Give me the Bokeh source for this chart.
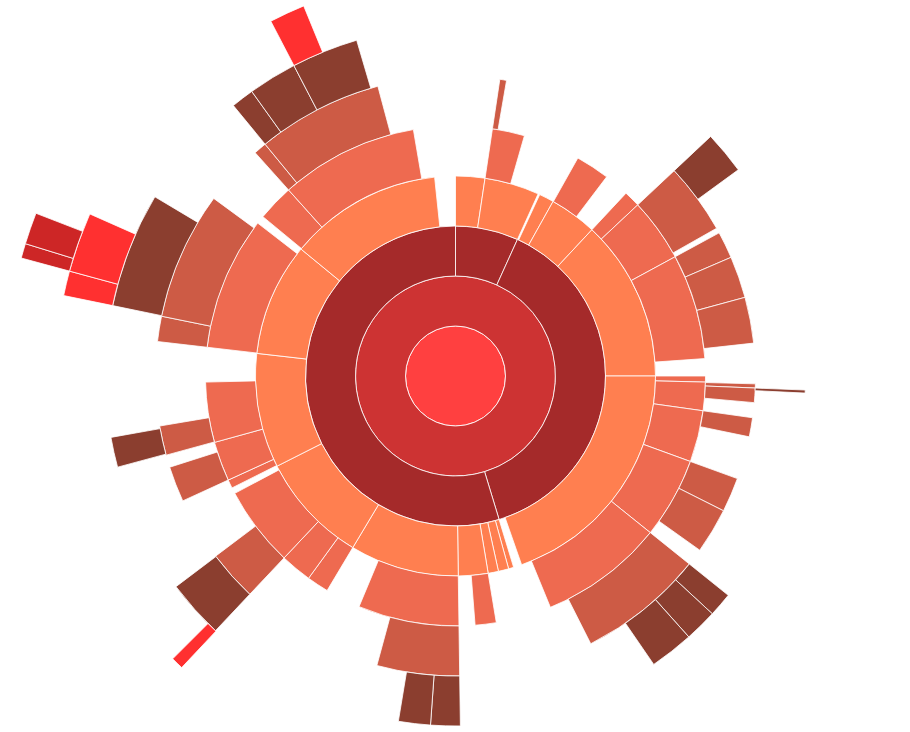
import numpy as np
from bokeh.plotting import figure
from bokeh.models import ColumnDataSource, Range1d
from bokeh.embed import file_html
from bokeh.resources import INLINE

# Each node of the hierarchy: (start, end) of its slice in degrees,
# measured clockwise from 12 o'clock. Level 0 and 1 are full circles.
ring2 = [(0, 24.4), (24.4, 163.1), (163.1, 360)]
ring3 = [(0, 8.5), (8.5, 24.4), (24.9, 29.2), (29.2, 43.0), (43.0, 90.0),
         (90.0, 160.7), (163.1, 164.6), (164.6, 167.6), (167.6, 170.6),
         (170.6, 179.2), (179.2, 210.9), (210.9, 243.2), (243.2, 276.5),
         (276.5, 309.4), (309.4, 354.0)]
ring4 = [(8.5, 16.0), (29.3, 37.2), (43.0, 46.8), (46.8, 61.5), (61.5, 86.0),
         (90.0, 91.4), (91.4, 98.0), (98.0, 110.0), (110.0, 128.8),
         (128.8, 157.7), (170.6, 175.5), (179.2, 202.7), (210.9, 216.0),
         (216.0, 223.3), (223.3, 242.0), (243.4, 245.4), (245.4, 254.6),
         (254.6, 268.6), (276.6, 307.7), (309.6, 318.1), (318.1, 350.3)]
ring5 = [(8.5, 9.8), (46.8, 60.5), (61.5, 66.7), (66.7, 74.8), (74.8, 83.7),
         (91.5, 92.3), (92.3, 95.1), (98.0, 101.7), (110.0, 116.7),
         (116.7, 125.5), (128.8, 153.2), (179.2, 195.2), (223.3, 233.1),
         (245.4, 252.3), (254.7, 260.4), (276.6, 281.5), (281.5, 306.3),
         (318.1, 320.6), (320.6, 345.0)]
ring6 = [(46.8, 53.9), (92.3, 92.8), (128.8, 132.8), (132.8, 138.2),
         (138.2, 145.5), (179.2, 184.1), (184.1, 189.4), (223.3, 233.0),
         (254.9, 259.9), (281.6, 300.8), (320.6, 324.4), (324.4, 332.5),
         (332.5, 343.6)]
ring7 = [(223.2, 225.0), (281.6, 285.2), (285.2, 293.9), (332.5, 337.7)]
ring8 = [(285.2, 287.1), (287.1, 291.2)]

rings = [ring2, ring3, ring4, ring5, ring6, ring7, ring8]

level_colors = ["#FF4040", "#CD3333", "#A52A2A", "#FF7F50", "#EE6A50",
                "#CD5B45", "#8B3E2F", "#FF3030", "#CD2626"]
band = 50  # radial thickness of one level

p = figure(width=910, height=732,
           x_range=Range1d(-455, 455), y_range=Range1d(-356.5, 375.5),
           output_backend="svg", toolbar_location=None, min_border=0)
p.axis.visible = False
p.grid.visible = False
p.outline_line_color = None
p.background_fill_color = "white"

# root and first level are whole circles
p.circle(x=0, y=0, radius=band, fill_color=level_colors[0],
         line_color="white", line_width=0.8)
p.annulus(x=0, y=0, inner_radius=band, outer_radius=2 * band,
          fill_color=level_colors[1], line_color="white", line_width=0.8)

for i, ring in enumerate(rings):
    level = i + 2
    starts = np.array([s for s, e in ring])
    ends = np.array([e for s, e in ring])
    # clockwise-from-top degrees -> bokeh radians (anticlockwise from +x)
    src = ColumnDataSource(data=dict(
        start=np.radians(90 - ends),
        end=np.radians(90 - starts),
    ))
    p.annular_wedge(x=0, y=0, inner_radius=level * band,
                    outer_radius=(level + 1) * band,
                    start_angle="start", end_angle="end", source=src,
                    fill_color=level_colors[level], line_color="white",
                    line_width=0.8)

open("out.html", "w").write(file_html(p, INLINE))
